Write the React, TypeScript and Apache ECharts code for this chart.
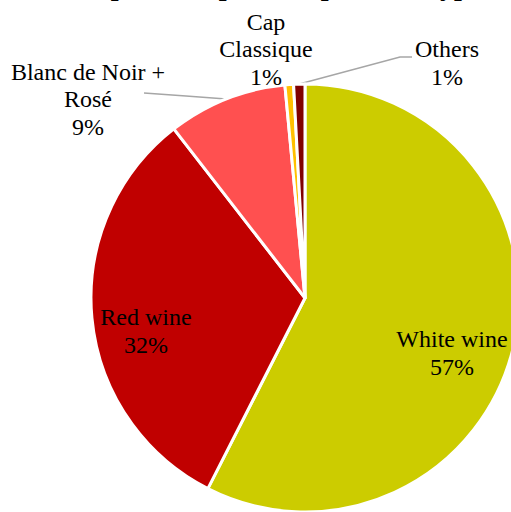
import React, { useEffect, useRef } from "react";
import * as echarts from "echarts";

const titleText = "Wine export composition per wine type";
const categories = ["White wine", "Red wine", "Blanc de Noir +\nRosé", "Cap\nClassique", "Others"];
const values = [57.5, 32.0, 9.0, 0.65, 0.85];
const colors = ["#CCCC00", "#C00000", "#FF5050", "#FFC000", "#800000"];
const insideLabel = [true, true, false, false, false];
const showLine = [false, false, true, false, true];

export default function App() {
  const ref = useRef<HTMLDivElement>(null);
  useEffect(() => {
    document.body.style.margin = "0";
    const chart = echarts.init(ref.current!, null, { renderer: "svg" });
    const total = values.reduce((a, b) => a + b, 0);
    const font = "Times New Roman, Liberation Serif, serif";
    const labelPos: Record<number, [number, number]> = {
      0: [452, 353],
      1: [146, 331],
      2: [88, 99],
      3: [266, 49],
      4: [447, 63],
    };
    const txt = { fontFamily: font, fontSize: 24, lineHeight: 27.5, color: "#000", fontWeight: "normal" };
    chart.setOption({
      animation: false,
      textStyle: { fontFamily: font },
      title: {
        text: titleText,
        left: 14,
        top: -29,
        padding: 0,
        textStyle: { fontFamily: font, fontWeight: "bold", fontSize: 28, lineHeight: 28, color: "#000" },
      },
      series: [
        {
          type: "pie",
          center: [305, 298],
          radius: 214,
          startAngle: 90,
          clockwise: true,
          avoidLabelOverlap: false,
          itemStyle: { borderColor: "#fff", borderWidth: 3 },
          label: {
            ...txt,
            align: "center",
            formatter: (p: any) =>
              p.name
                .split("\n")
                .concat([`${Math.round((p.value / total) * 100)}%`])
                .map((s: string) => `{t|${s}}`)
                .join("\n"),
            rich: { t: { ...txt, align: "center" } },
          },
          labelLine: { show: true, length: 10, length2: 10, lineStyle: { color: "#A6A6A6", width: 1.5 } },
          labelLayout: (params: any) => {
            const pos = labelPos[params.dataIndex];
            const res: any = { x: pos[0], y: pos[1], align: "center", verticalAlign: "middle" };
            const p0 = params.labelLinePoints ? params.labelLinePoints[0] : null;
            if (p0 && params.dataIndex === 2) res.labelLinePoints = [p0, [186, 96], [144, 93]];
            if (p0 && params.dataIndex === 4) res.labelLinePoints = [p0, [400, 57], [412, 57]];
            return res;
          },
          data: categories.map((name, i) => ({
            name,
            value: values[i],
            itemStyle: { color: colors[i] },
            label: { position: insideLabel[i] ? "inside" : "outside" },
            labelLine: { show: showLine[i] },
          })),
        },
      ],
    });
    return () => chart.dispose();
  }, []);
  return <div ref={ref} style={{ width: 511, height: 512 }} />;
}
